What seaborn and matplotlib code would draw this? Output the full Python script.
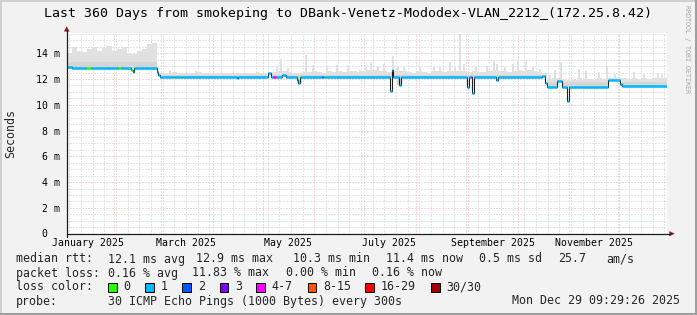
import numpy as np
import pandas as pd
import matplotlib
matplotlib.use("Agg")
import matplotlib.pyplot as plt
import matplotlib.dates as mdates
from matplotlib.ticker import MultipleLocator, FuncFormatter, NullFormatter, NullLocator
from matplotlib.patches import Rectangle, Polygon
from matplotlib.lines import Line2D
import seaborn as sns

# ---------------- data ----------------
START = pd.Timestamp("2025-01-03 09:29:26")
SPAN_DAYS = 360

title = "Last 360 Days from smokeping to DBank-Venetz-Mododex-VLAN_2212_(172.25.8.42)"

# median rtt (ms), step function: value holds from day until next breakpoint
median_days = [0, 3, 38.5, 39.5, 40.5, 54, 55, 56, 102, 103, 121, 122.5, 129, 131.5,
               138.4, 139, 140, 194, 195.2, 196, 199.4, 200.4, 240.3, 241.2, 243.4, 244.4,
               257.6, 258.6, 285, 287, 288.4, 294, 297.4, 300.4, 301.2, 324.6, 332, 333]
median_ms = [12.92, 12.85, 12.7, 12.58, 12.85, 12.55, 12.3, 12.17, 12.08, 12.17, 12.45, 12.17,
             12.3, 12.17, 11.9, 11.66, 12.17, 11.05, 12.7, 12.17, 11.5, 12.17, 11.4, 12.17,
             10.9, 12.17, 11.9, 12.17, 12.25, 11.66, 11.4, 11.86, 11.42, 10.3, 11.42, 11.9,
             11.6, 11.45]

# loss class (index into loss_labels), step function
loss_days = [0, 11.6, 14.6, 30.6, 32.4, 38.6, 39.8, 63.8, 64.6, 69.0, 69.8, 124.0, 125.6,
             140.0, 140.8, 153.0, 153.8, 155.0, 155.8, 242.6, 243.4]
loss_class = [1, 0, 1, 0, 1, 0, 1, 0, 1, 0, 1, 4, 1, 0, 1, 2, 1, 0, 1, 3, 1]

loss_labels = ["0", "1", "2", "3", "4-7", "8-15", "16-29", "30/30"]
loss_colors = ["#26ff00", "#00b8ff", "#0059ff", "#7e00ff", "#ff00ff", "#ff5500", "#ff0000", "#a10000"]

# smoke (ping spread) body upper edge, 3-day bins (ms)
smoke_top = [14.0, 14.45, 14.2, 14.1, 14.35, 14.5, 14.15, 14.4, 14.55, 14.2, 14.3, 14.45,
             14.0, 13.95, 14.2, 14.3, 14.75, 14.8,
             12.5, 12.45, 12.5, 12.55, 12.45, 12.45, 12.5, 12.5, 12.55, 12.45,
             12.45, 12.5, 12.45, 12.5, 12.45, 12.45, 12.5, 12.45, 12.45, 12.45,
             12.5, 12.45, 12.5, 12.55, 12.6, 12.6, 12.55, 12.5, 12.5, 12.55,
             12.55, 12.6, 12.55, 12.5, 12.6, 12.55, 12.6, 12.55, 12.6, 12.6,
             12.55, 12.65, 12.7, 12.7, 12.6, 12.65, 12.55, 12.6, 12.65, 12.6,
             12.55, 12.5, 12.6, 12.55, 12.5, 12.6, 12.6, 12.55, 12.65, 12.6,
             12.6, 12.65, 12.55, 12.6, 12.55, 12.55, 12.6, 12.7, 12.65, 12.6,
             12.55, 12.65, 12.7, 12.6, 12.7, 12.6, 12.55, 12.5,
             12.0, 12.1, 12.05, 11.95, 11.95, 11.95, 12.05, 11.95, 12.0, 11.95, 12.05, 12.0,
             12.1, 12.05, 12.05, 12.05, 12.0, 12.1, 12.0, 12.05, 12.0, 12.05, 12.1, 12.1]
SMOKE_BIN_DAYS = 3

# denser inner smoke, step function
smoke_mid_days = [0, 54.5, 287]
smoke_mid_ms = [13.35, 12.35, 11.75]

# narrow smoke spikes (day, top in ms)
spike_days = [62, 77.6, 114.8, 126.2, 128.6, 132.8, 143.6, 147.8, 156.2, 162.2, 168.8, 176,
              179.6, 182.6, 186.8, 190.4, 195.8, 198.8, 202.4, 212, 220.4, 224, 230, 233,
              235.7, 238.4, 245.6, 252.2, 256.4, 258.2, 263, 267.8, 270.8, 275.6, 279.8, 284,
              290, 293, 296.6, 307.3, 311.6, 319.4, 324.3, 329, 340.3, 346.3, 354.8, 357.2]
spike_top = [12.7, 12.65, 12.55, 12.95, 13.55, 12.85, 13.85, 13.07, 13.07, 13.07, 13.07, 12.7,
             12.95, 13.26, 12.95, 13.13, 13.78, 13.0, 13.05, 12.95, 12.98, 13.05, 13.33, 13.05,
             15.5, 13.2, 12.95, 13.05, 13.4, 13.2, 12.95, 13.2, 13.45, 13.5, 12.95, 12.8,
             12.3, 12.7, 13.3, 12.75, 12.6, 12.55, 13.05, 12.4, 12.55, 12.4, 12.45, 12.45]

month_label_months = [1, 3, 5, 7, 9, 11]

stats_rtt = [("median rtt:", 16), ("12.1 ms avg", 107.6), ("12.9 ms max", 195.6),
             ("10.3 ms min", 293.3), ("11.4 ms now", 385.8), ("0.5 ms sd", 479),
             ("25.7", 557.8), ("am/s", 606.7)]
stats_loss = [("packet loss:", 16), ("0.16 % avg", 107.6), ("11.83 % max", 192.4),
              ("0.00 % min", 285.8), ("0.16 % now", 372.4)]
loss_box_x = [108, 145.3, 182.2, 219.6, 256.4, 307.6, 365.3, 431.1]
probe_text = "30 ICMP Echo Pings (1000 Bytes) every 300s"
stamp_text = "Mon Dec 29 09:29:26 2025"

# ---------------- style ----------------
W, H = 697, 315
BACK = "#f2f2f2"
SHADEA = "#cfcfcf"
SHADEB = "#9e9e9e"
GRID = "#cdcdcd"
MGRID = "#eab0b0"
AXIS = "#1f1f1f"
ARROW = "#801f1f"
SMOKE_OUT = "#e1e1e1"
SMOKE_IN = "#d5d5d5"
MONO = "DejaVu Sans Mono"

sns.set_theme(style="white")
plt.rcParams["font.family"] = [MONO]
plt.rcParams["lines.scale_dashes"] = True


def fx(x):
    return x / W


def fy(y):
    return 1 - y / H


def dnum(days):
    return mdates.date2num((START + pd.to_timedelta(np.asarray(days, float), unit="D")).to_pydatetime())


def step_at(bp, vals, q):
    idx = np.searchsorted(np.asarray(bp, float), np.asarray(q, float), side="right") - 1
    return np.asarray(vals, float)[idx]


X0, X1 = 66.7, 666.7
Y0, Y1 = 233.7, 33.3
YMAX = 15.55

fig = plt.figure(figsize=(W / 100, H / 100), dpi=100, facecolor=BACK)
ax = fig.add_axes([fx(X0), fy(Y0), (X1 - X0) / W, (Y0 - Y1) / H])
ax.set_facecolor("white")
ax.xaxis_date()
ax.set_xlim(dnum(0), dnum(SPAN_DAYS))
ax.set_ylim(0, YMAX)

# smoke
edges = np.arange(0, SPAN_DAYS + SMOKE_BIN_DAYS, SMOKE_BIN_DAYS)[: len(smoke_top) + 1]
centers = edges[:-1] + SMOKE_BIN_DAYS / 2
base = step_at(median_days, median_ms, centers)
top = np.asarray(smoke_top, float)
mid = np.minimum(np.maximum(step_at(smoke_mid_days, smoke_mid_ms, centers), base), top)
ax.fill_between(dnum(edges), np.append(base, base[-1]), np.append(top, top[-1]),
                step="post", color=SMOKE_OUT, lw=0, zorder=2)
ax.fill_between(dnum(edges), np.append(base, base[-1]), np.append(mid, mid[-1]),
                step="post", color=SMOKE_IN, lw=0, zorder=2.1)
sb = step_at(median_days, median_ms, spike_days)
ax.bar(dnum(spike_days), np.asarray(spike_top) - sb, bottom=sb, width=1.2,
       color=SMOKE_OUT, lw=0, zorder=1.9)

# dark median line
md = list(median_days) + [SPAN_DAYS]
mv = list(median_ms) + [median_ms[-1]]
sns.lineplot(x=dnum(md), y=mv, drawstyle="steps-post", color="#202020", lw=0.8,
             estimator=None, sort=False, ax=ax, zorder=3)

# loss-coloured median band
cuts = np.unique(np.concatenate([median_days, loss_days, [SPAN_DAYS]]))
sa, sb2 = cuts[:-1], cuts[1:]
sy = step_at(median_days, median_ms, sa)
sc = step_at(loss_days, loss_class, sa).astype(int)
for c in np.unique(sc):
    m = sc == c
    ax.hlines(sy[m], dnum(sa[m]), dnum(sb2[m]), colors=loss_colors[c], lw=1.8,
              zorder=4, capstyle="butt")

# grid and ticks
ax.xaxis.set_major_locator(mdates.MonthLocator())
ax.xaxis.set_minor_locator(mdates.WeekdayLocator(byweekday=mdates.SU))
ax.xaxis.set_major_formatter(NullFormatter())
ax.xaxis.set_minor_formatter(NullFormatter())
ax.yaxis.set_major_locator(MultipleLocator(2))
ax.yaxis.set_minor_locator(MultipleLocator(0.5))
ax.yaxis.set_major_formatter(FuncFormatter(lambda v, p: "" if abs(v) < 1e-9 else f"{v:.0f} m"))
ax.set_axisbelow(True)
ax.grid(True, which="minor", color=GRID, lw=0.72, ls=(0, (1, 2)))
ax.grid(True, which="major", color=MGRID, lw=0.72, ls=(0, (1, 2)))
ax.tick_params(axis="y", which="major", direction="out", length=2.2, width=0.72,
               color=AXIS, pad=2.6, labelsize=7.1, labelcolor="black")
ax.tick_params(axis="y", which="minor", direction="out", length=1.4, width=0.72, color=AXIS)
ax.tick_params(axis="x", which="major", direction="inout", length=3.0, width=0.72, color="#d05050")
ax.tick_params(axis="x", which="minor", direction="inout", length=2.0, width=0.72, color=AXIS)
for s in ax.spines.values():
    s.set_visible(False)

ax.text(-0.0328, 0, "0", transform=ax.get_yaxis_transform(), ha="right", va="center",
        fontsize=7.1, color="black")

sec = ax.secondary_xaxis("bottom")
sec.xaxis.set_major_locator(mdates.MonthLocator(bymonth=month_label_months, bymonthday=16))
sec.xaxis.set_major_formatter(mdates.DateFormatter("%B %Y"))
sec.xaxis.set_minor_locator(NullLocator())
sec.tick_params(length=0, pad=3.0, labelsize=7.1, labelcolor="black")
for s in sec.spines.values():
    s.set_visible(False)

# axis lines with arrows
fig.add_artist(Line2D([fx(X0), fx(670)], [fy(Y0), fy(Y0)], color=AXIS, lw=0.9))
fig.add_artist(Line2D([fx(X0), fx(X0)], [fy(237), fy(30)], color=AXIS, lw=0.9))
fig.add_artist(Polygon([[fx(669.3), fy(Y0 - 2.6)], [fx(674.8), fy(Y0)], [fx(669.3), fy(Y0 + 2.6)]],
                       closed=True, color=ARROW, lw=0))
fig.add_artist(Polygon([[fx(X0 - 2.8), fy(31.5)], [fx(X0), fy(26.3)], [fx(X0 + 2.8), fy(31.5)]],
                       closed=True, color=ARROW, lw=0))

# texts
fig.text(fx(348.5), fy(13), title, ha="center", va="center", fontsize=9.5, color="black")
fig.text(fx(10.3), fy(133), "Seconds", rotation=90, ha="center", va="center", fontsize=8.4)
fig.text(fx(686.5), fy(5), "RRDTOOL / TOBI OETIKER", rotation=270, ha="center", va="top",
         fontsize=4.8, color="#a8a8a8")

LEG = 8.4
for t, x in stats_rtt:
    fig.text(fx(x), fy(259), t, ha="left", va="center", fontsize=LEG)
for t, x in stats_loss:
    fig.text(fx(x), fy(273), t, ha="left", va="center", fontsize=LEG)
fig.text(fx(16), fy(287), "loss color:", ha="left", va="center", fontsize=LEG)
for lab, col, x in zip(loss_labels, loss_colors, loss_box_x):
    fig.add_artist(Rectangle((fx(x), fy(291.5)), 8.5 / W, 9 / H, facecolor=col,
                             edgecolor="black", lw=0.7))
    fig.text(fx(x + 15.5), fy(287), lab, ha="left", va="center", fontsize=LEG)
fig.text(fx(16), fy(301), "probe:", ha="left", va="center", fontsize=LEG)
fig.text(fx(107.6), fy(301), probe_text, ha="left", va="center", fontsize=LEG)
fig.text(fx(512.4), fy(301), stamp_text, ha="left", va="center", fontsize=LEG)

# frame shading
fig.add_artist(Rectangle((0, fy(2)), 1, 2 / H, color=SHADEA, lw=0))
fig.add_artist(Rectangle((0, 0), 2 / W, 1, color=SHADEA, lw=0))
fig.add_artist(Rectangle((0, 0), 1, 2 / H, color=SHADEB, lw=0))
fig.add_artist(Rectangle((fx(W - 2), 0), 2 / W, 1, color=SHADEB, lw=0))

fig.savefig("out.png", dpi=100, facecolor=BACK)
